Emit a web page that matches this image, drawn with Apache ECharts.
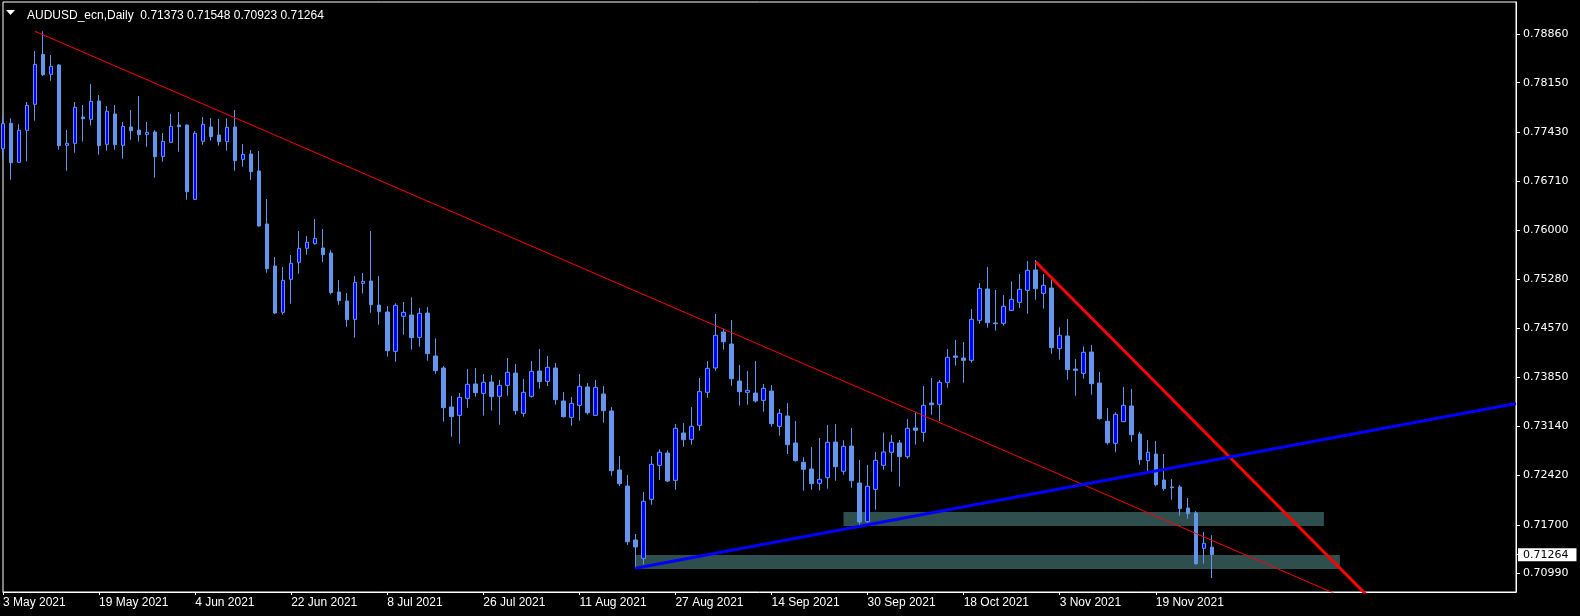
<!DOCTYPE html>
<html>
<head>
<meta charset="utf-8">
<script src="https://cdn.jsdelivr.net/npm/echarts/dist/echarts.min.js"></script>
<style>
  html, body { margin: 0; padding: 0; background: #000; }
  #chart { width: 1580px; height: 616px; }
</style>
</head>
<body>
<div id="chart"></div>
<script>
// ---- data (daily AUDUSD bars, 3 May 2021 .. 30 Nov 2021) ----
const symbolText = 'AUDUSD_ecn,Daily';
const totalSlots = 190; // bars + empty space to the right
const tickLabels = ['3 May 2021', '19 May 2021', '4 Jun 2021', '22 Jun 2021', '8 Jul 2021', '26 Jul 2021',
  '11 Aug 2021', '27 Aug 2021', '14 Sep 2021', '30 Sep 2021', '18 Oct 2021', '3 Nov 2021', '19 Nov 2021'];
const tickEvery = 12;
const priceLabels = [0.78860, 0.78150, 0.77430, 0.76710, 0.76000, 0.75280, 0.74570, 0.73850, 0.73140, 0.72420, 0.71700, 0.70990];
const yMin = 0.70719, yMax = 0.79327;

const open = [
.77187,.77557,.76988,.77455,.77834,.78563,.78272,.78408,.77236,.77265,
.77649,.77615,.77883,.77250,.77693,.77236,.77503,.77459,.77396,.77430,
.77075,.77280,.77532,.77532,.76448,.77294,.77503,.77386,.77289,.77503,
.77031,.77109,.76861,.76088,.75475,.74799,.75281,.75529,.75733,.75801,
.75738,.75665,.75096,.74965,.74697,.75222,.75256,.74906,.74804,.74230,
.74741,.74760,.74434,.74789,.74162,.73987,.73418,.73296,.73544,.73754,
.73617,.73783,.73574,.73734,.73914,.73326,.73574,.73943,.73792,.73987,
.73506,.73267,.73442,.73710,.73296,.73608,.73360,.72499,.72265,.71478,
.71210,.72071,.72567,.72747,.72348,.73039,.72946,.73151,.73632,.73987,
.74512,.74337,.73797,.73632,.73622,.73515,.73651,.73136,.73287,.72893,
.72611,.72514,.72304,.72387,.72907,.72480,.72849,.72309,.71745,.72217,
.72567,.72757,.72893,.72693,.73112,.73048,.73476,.73457,.73778,.74162,
.74133,.74099,.74682,.75140,.74644,.74639,.74828,.74945,.75120,.75417,
.75076,.75154,.74269,.74454,.73972,.73909,.74220,.73768,.73209,.72888,
.73204,.73433,.73024,.72635,.72732,.72353,.72251,.72251,.71945,.71872,
.71356,.71373];
const high = [
.77659,.77630,.77542,.77868,.78612,.78899,.78554,.78422,.77459,.77868,
.77824,.78131,.77970,.77810,.77824,.77576,.77751,.77955,.77576,.77459,
.77416,.77693,.77722,.77540,.77445,.77649,.77634,.77620,.77630,.77751,
.77255,.77168,.77153,.76453,.75607,.75461,.75636,.75986,.75913,.76161,
.76015,.75704,.75271,.75081,.75329,.75373,.75986,.75329,.74892,.74931,
.74950,.75018,.74862,.74877,.74420,.74016,.73579,.73622,.73972,.73987,
.73899,.73885,.73812,.74133,.74045,.73827,.74089,.74264,.74162,.74060,
.73637,.73564,.73899,.73768,.73812,.73724,.73418,.72703,.72426,.71565,
.72178,.72703,.72800,.72786,.73170,.73185,.73418,.73841,.74089,.74775,
.74561,.74687,.74031,.73943,.74089,.73754,.73739,.73389,.73476,.73214,
.72684,.72835,.72966,.73155,.73170,.72932,.73112,.72645,.72572,.72762,
.73044,.73010,.72937,.73243,.73340,.73724,.73841,.73812,.74264,.74396,
.74366,.74848,.75227,.75461,.75125,.75052,.75251,.75358,.75548,.75563,
.75358,.75295,.74580,.74702,.74118,.74303,.74323,.73929,.73403,.73340,
.73710,.73681,.73058,.72937,.72922,.72732,.72368,.72280,.72090,.71901,
.71594,.71548];
const low = [
.77041,.76735,.76978,.77002,.77596,.78247,.78179,.77173,.76866,.77129,
.77289,.77523,.77100,.77158,.77173,.77041,.77318,.77289,.77216,.76764,
.76997,.77270,.77143,.76443,.76440,.77245,.77304,.77231,.77158,.76866,
.76924,.76730,.76049,.75378,.74775,.74765,.74926,.75363,.75641,.75787,
.75534,.75062,.74911,.74590,.74430,.75072,.74794,.74619,.74153,.74080,
.74473,.74254,.74298,.74094,.73904,.73204,.72985,.72883,.73408,.73569,
.73292,.73365,.73160,.73583,.73306,.73277,.73554,.73686,.73724,.73452,
.73262,.73146,.73219,.73306,.73290,.73189,.72416,.72265,.71405,.71064,
.71123,.71993,.72353,.72324,.72212,.72839,.72868,.73073,.73554,.73948,
.74254,.73729,.73437,.73452,.73481,.73350,.73131,.73000,.72732,.72620,
.72197,.72212,.72202,.72227,.72343,.72431,.72241,.71697,.71731,.71920,
.72504,.72475,.72256,.72664,.72869,.72912,.73306,.73214,.73700,.74021,
.73773,.74065,.74634,.74575,.74532,.74605,.74820,.74862,.74780,.74984,
.74853,.74196,.74109,.73817,.73583,.73831,.73598,.73233,.72869,.72757,
.73200,.72912,.72577,.72484,.72261,.72197,.72066,.71833,.71789,.71118,
.71132,.70923];
const close = [
.77552,.76983,.77455,.77819,.78417,.78267,.78388,.77231,.77265,.77790,
.77625,.77878,.77231,.77732,.77245,.77513,.77450,.77391,.77425,.77070,
.77294,.77513,.77508,.76560,.77411,.77542,.77362,.77289,.77498,.77012,
.77104,.76851,.76059,.75436,.74790,.75266,.75514,.75733,.75821,.75879,
.75641,.75086,.74970,.74692,.75237,.75252,.74911,.74809,.74240,.74901,
.74799,.74430,.74785,.74196,.73948,.73408,.73277,.73559,.73749,.73627,
.73778,.73569,.73734,.73924,.73365,.73632,.73938,.73788,.73997,.73525,
.73277,.73471,.73719,.73335,.73705,.73365,.72489,.72299,.71453,.71376,
.72042,.72582,.72757,.72338,.73107,.72941,.73136,.73642,.73982,.74464,
.74371,.73831,.73642,.73661,.73506,.73690,.73175,.73326,.72868,.72635,
.72509,.72300,.72363,.72903,.72548,.72844,.72343,.71740,.72261,.72640,
.72762,.72903,.72693,.73107,.73078,.73442,.73452,.73778,.74143,.74143,
.74099,.74697,.75149,.74648,.74634,.74887,.74989,.75135,.75412,.75144,
.75193,.74284,.74464,.73963,.73953,.74216,.73758,.73248,.72898,.73311,
.73442,.73014,.72650,.72757,.72285,.72227,.72241,.71935,.71862,.71132,
.71429,.71264];

// trend lines: [barIndex, price] anchor pairs
const thinRedLine  = [[4, 0.78899], [170, 0.70513]];
const thickRedLine = [[129, 0.75538], [172, 0.70479]];
const blueLine     = [[79, 0.71065], [189, 0.73470]];
// zones: [fromBar, topPrice, toBar, bottomPrice]
const zones = [[105, 0.71886, 165, 0.71682], [79, 0.71259, 167, 0.71054]];

// ---- build ----
const nBars = open.length;
const cats = Array.from({ length: totalSlots }, (_, i) => String(i));
const candles = open.map((o, i) => [o, close[i], low[i], high[i]]);
const last = nBars - 1;
const fmt = v => v.toFixed(5);
const titleText = symbolText + '  ' + [open[last], high[last], low[last], close[last]].map(fmt).join(' ');
const isTick = (idx) => idx % tickEvery === 0 && idx / tickEvery < tickLabels.length;

const chart = echarts.init(document.getElementById('chart'), null, { renderer: 'canvas' });
chart.setOption({
  backgroundColor: '#000000',
  animation: false,
  title: {
    text: titleText, left: 22, top: 5,
    textStyle: { color: '#ffffff', fontSize: 12, fontWeight: 'normal', fontFamily: 'Liberation Sans' }
  },
  graphic: [{
    type: 'polygon', shape: { points: [[6, 10], [15, 10], [10.5, 15]] },
    style: { fill: '#ffffff' }
  }],
  grid: { left: 2, top: 2, right: 64, bottom: 24, show: true, borderColor: '#ffffff', borderWidth: 1, backgroundColor: '#000000' },
  xAxis: {
    type: 'category', data: cats, boundaryGap: false,
    axisLine: { show: true, lineStyle: { color: '#ffffff' } },
    axisTick: { show: true, length: 3, interval: (idx) => isTick(idx), lineStyle: { color: '#ffffff' } },
    axisLabel: {
      interval: (idx) => isTick(idx), align: 'left', margin: 5,
      color: '#ffffff', fontSize: 12, fontFamily: 'Liberation Sans',
      formatter: (v, idx) => { const i = Number(v); return isTick(i) ? tickLabels[i / tickEvery] : ''; }
    },
    splitLine: { show: false }
  },
  yAxis: [{
    type: 'value', position: 'right', min: yMin, max: yMax, scale: true,
    axisLine: { show: true, lineStyle: { color: '#ffffff' } },
    axisTick: { show: true, length: 4, customValues: priceLabels.concat([close[last]]), lineStyle: { color: '#ffffff' } },
    axisLabel: {
      customValues: priceLabels, margin: 7, color: '#ffffff', fontSize: 11, fontFamily: 'DejaVu Sans',
      formatter: v => fmt(v)
    },
    splitLine: { show: false }
  }, {
    // current price tag on the price scale
    type: 'value', position: 'right', min: yMin, max: yMax, scale: true,
    axisLine: { show: false }, axisTick: { show: false }, splitLine: { show: false },
    axisLabel: {
      customValues: [close[last]], margin: 2, color: '#000000', backgroundColor: '#ffffff',
      fontSize: 11, fontFamily: 'DejaVu Sans', padding: [1, 8, 0, 5], lineHeight: 12,
      formatter: v => fmt(v)
    }
  }],
  series: [
    {
      type: 'candlestick', data: candles, barWidth: 4, z: 3,
      itemStyle: { color: '#0000ff', color0: '#6495ed', borderColor: '#6495ed', borderColor0: '#6495ed', borderWidth: 1 },
      markArea: {
        silent: true,
        itemStyle: { color: '#2f4f4f', opacity: 1 },
        data: zones.map(z => [{ coord: [z[0], z[1]] }, { coord: [z[2], z[3]] }])
      }
    },
    {
      type: 'line', data: thinRedLine, showSymbol: false, symbol: 'none', z: 5, clip: true, silent: true,
      lineStyle: { color: '#ff0000', width: 1 }
    },
    {
      type: 'line', data: thickRedLine, showSymbol: false, symbol: 'none', z: 5, clip: true, silent: true,
      lineStyle: { color: '#ff0000', width: 3 }
    },
    {
      type: 'line', data: blueLine, showSymbol: false, symbol: 'none', z: 5, clip: true, silent: true,
      lineStyle: { color: '#0000ff', width: 3 }
    }
  ]
});
</script>
</body>
</html>
